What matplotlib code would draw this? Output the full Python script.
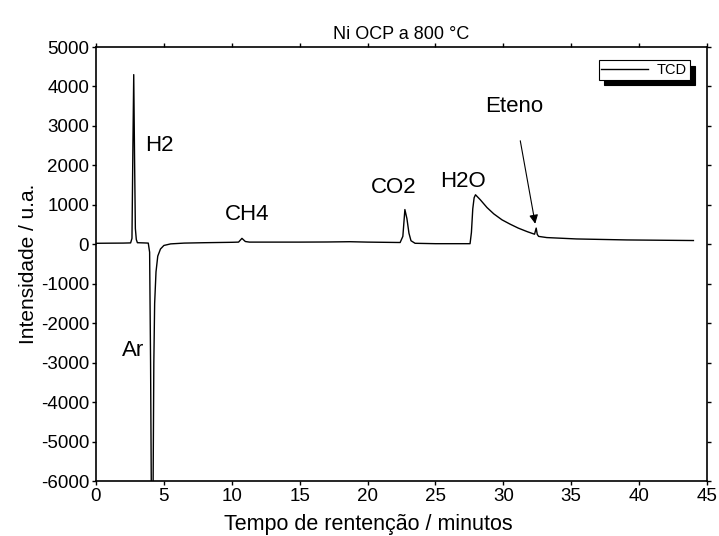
import matplotlib
matplotlib.use("Agg")
import matplotlib.pyplot as plt

plt.rcParams['font.family'] = ['Liberation Sans', 'DejaVu Sans']
plt.rcParams['axes.unicode_minus'] = False

tempo = [0.0, 1.0, 2.0, 2.55, 2.65, 2.72, 2.78, 2.84, 2.90, 2.97, 3.05, 3.5, 3.85,
         3.95, 4.02, 4.08, 4.2, 4.26, 4.32, 4.42, 4.55, 4.75, 5.0, 5.5, 6.5, 8.0,
         10.0, 10.5, 10.75, 11.0, 11.3, 13.0, 15.0, 17.0, 18.7, 20.0, 22.4, 22.6,
         22.75, 22.9, 23.05, 23.2, 23.5, 25.0, 27.55, 27.65, 27.75, 27.85, 27.95,
         28.3, 28.8, 29.3, 29.9, 30.5, 31.1, 31.76, 32.3, 32.42, 32.5, 32.6, 33.2,
         35.4, 39.1, 44.0]
sinal = [25, 28, 30, 35, 150, 2500, 4300, 2200, 400, 120, 40, 35, 30,
         -200, -3000, -6500, -6500, -3000, -1500, -700, -300, -120, -30, 10, 30, 40,
         50, 55, 150, 70, 55, 55, 55, 58, 65, 55, 45, 200,
         880, 650, 280, 90, 25, 15, 15, 300, 900, 1180, 1255,
         1130, 930, 770, 620, 510, 410, 320, 255, 410, 250, 200, 170,
         135, 110, 95]

# rótulos dos picos: (texto, x, y)
picos = [("H2", 4.7, 2500), ("Ar", 2.7, -2700), ("CH4", 11.1, 750),
         ("CO2", 21.9, 1450), ("H2O", 27.0, 1600)]

fig = plt.figure(figsize=(7.19, 5.36), dpi=100)
ax = fig.add_axes([0.1335, 0.1026, 0.8498, 0.8097])

ax.plot(tempo, sinal, color='black', lw=1.0, label='TCD')

for txt, x, y in picos:
    ax.text(x, y, txt, fontsize=16, ha='center', va='center')

ax.annotate("Eteno", xy=(32.35, 520), xytext=(30.8, 3480), fontsize=16,
            ha='center', va='center',
            arrowprops=dict(arrowstyle='-|>', color='black', lw=0.8,
                            shrinkA=15, shrinkB=0, mutation_scale=13))

ax.set_xlim(0, 45)
ax.set_ylim(-6000, 5000)
ax.set_xticks(range(0, 46, 5))
ax.set_yticks(range(-6000, 5001, 1000))
ax.tick_params(labelsize=13.5, length=3, width=1, direction='out', pad=2)
ax.tick_params(top=True, right=True, which='both')
for s in ax.spines.values():
    s.set_linewidth(1.2)

ax.set_xlabel("Tempo de rentenção / minutos", fontsize=15.5, labelpad=5)
ax.xaxis.set_label_coords(0.445, -0.075)
ax.set_ylabel("Intensidade / u.a.", fontsize=15, labelpad=2)
ax.set_title("Ni OCP a 800 °C", fontsize=13, pad=6)

leg = ax.legend(loc='upper right', bbox_to_anchor=(0.972, 0.970), fontsize=10.5,
                frameon=True, fancybox=False, edgecolor='black',
                shadow={'color': 'black', 'alpha': 1, 'ox': 4, 'oy': -4},
                borderpad=0.2, handlelength=3.2, handletextpad=0.6,
                borderaxespad=0)
leg.get_frame().set_linewidth(0.8)

fig.savefig("out.png", dpi=100)
